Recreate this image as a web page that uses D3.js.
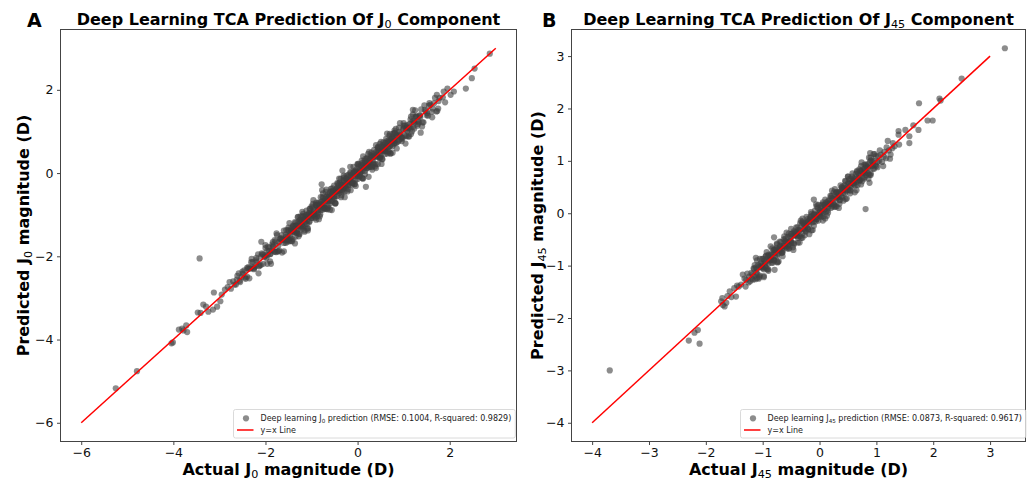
<!DOCTYPE html>
<html><head><meta charset="utf-8">
<script src="https://cdn.jsdelivr.net/npm/d3@7"></script>
<style>body{margin:0;background:#fff}svg{display:block;font-family:"DejaVu Sans",sans-serif}</style>
</head><body><svg id="c" width="1032" height="482"></svg>
<script>
// ---------- DATA: [actual, predicted] ----------
const j0Points = [
[-5.25,-5.17],[-4.79,-4.76],[-4.04,-4.09],[-4.01,-4.07],[-3.88,-3.76],[-3.81,-3.74],[-3.72,-3.66],[-3.70,-3.82],[-3.78,-3.78],
[-3.47,-3.35],[-3.41,-3.36],[-3.24,-3.33],[-3.14,-3.28],[-3.05,-3.21],[-2.98,-3.08],[-3.35,-3.16],[-3.29,-3.21],[-3.12,-2.87],
[-3.43,-2.05],[-2.09,-1.65],[-2.95,-2.92],[-2.88,-2.80],[-2.82,-2.74],[-2.78,-2.62],[-2.75,-2.78],
[1.95,2.03],[2.09,1.96],[2.35,2.03],[1.72,1.88],[1.75,1.55],[1.20,1.52],[1.20,1.41],[1.37,0.97],[1.62,1.34],[2.87,2.87],
[2.54,2.51],[2.48,2.28],[1.87,1.96],[1.85,1.82],[1.90,1.70],[2.02,1.88],
[0.18,-0.33],[-0.33,0.06],[-0.78,-0.27],[-0.77,-0.41],[0.48,0.70],
[-2.70,-2.60],[-2.64,-2.68],[-2.58,-2.41],[-2.52,-2.50],[-2.46,-2.34],[-2.40,-2.49],[-2.34,-2.29],[-2.28,-2.14],[-2.22,-2.24],[-2.16,-1.95],
[-2.10,-2.21],[-2.04,-1.96],[-1.98,-2.04],[-1.92,-1.79],[-1.86,-1.86],[-1.80,-1.61],[-1.74,-1.88],[-1.68,-1.58],[-1.62,-1.59],
[-2.67,-2.68],[-2.61,-2.47],[-2.55,-2.62],[-2.49,-2.42],[-2.43,-2.54],[-2.37,-2.26],[-2.31,-2.14],[-2.25,-2.29],[-2.19,-2.13],[-2.13,-2.22],
[-2.07,-1.95],[-2.01,-2.00],[-1.95,-1.77],[-1.89,-1.94],[-1.83,-1.74],[-1.77,-1.90],[-1.71,-1.66],[-1.65,-1.49],[-1.59,-1.61],
[-2.62,-2.56],[-2.56,-2.59],[-2.50,-2.37],[-2.44,-2.51],[-2.38,-2.30],[-2.32,-2.29],[-2.26,-2.27],[-2.20,-2.09],[-2.14,-2.24],[-2.08,-1.93],
[-2.02,-2.01],[-1.96,-1.87],[-1.90,-1.95],[-1.84,-1.77],[-1.78,-1.64],[-1.72,-1.74],[-1.66,-1.56],[-1.60,-1.68],
[-1.56,-1.48],[-1.53,-1.65],[-1.50,-1.31],[-1.47,-1.50],[-1.44,-1.33],[-1.41,-1.59],[-1.38,-1.36],[-1.35,-1.20],[-1.32,-1.41],[-1.29,-1.05],
[-1.26,-1.47],[-1.23,-1.17],[-1.20,-1.34],[-1.17,-1.04],[-1.14,-1.19],[-1.11,-0.90],[-1.08,-1.33],[-1.05,-0.96],[-1.02,-1.03],[-0.99,-0.83],
[-0.96,-0.88],[-0.93,-1.05],[-0.90,-0.71],[-0.87,-0.90],[-0.84,-0.73],[-0.81,-0.99],[-0.78,-0.76],[-0.75,-0.60],[-0.72,-0.81],[-0.69,-0.45],
[-0.66,-0.87],[-0.63,-0.57],[-0.60,-0.74],[-0.57,-0.44],[-0.54,-0.59],[-0.51,-0.30],[-0.48,-0.73],[-0.45,-0.36],[-0.42,-0.43],[-0.39,-0.23],
[-0.36,-0.28],[-0.33,-0.45],[-0.30,-0.11],[-0.27,-0.30],[-0.24,-0.13],[-0.21,-0.39],[-0.18,-0.16],[-0.15,0.00],[-0.12,-0.21],[-0.09,0.15],
[-0.06,-0.27],[-0.03,0.03],[0.00,-0.14],[0.03,0.16],[0.06,0.01],[0.09,0.30],[0.12,-0.13],[0.15,0.24],[0.18,0.17],[0.21,0.37],
[0.24,0.32],[0.27,0.15],[0.30,0.49],[0.33,0.30],[0.36,0.47],[0.39,0.21],[0.42,0.44],[0.45,0.60],[0.48,0.39],[0.51,0.75],
[0.54,0.33],[0.57,0.63],[0.60,0.46],[0.63,0.76],[0.66,0.61],[0.69,0.90],[0.72,0.47],[0.75,0.84],[0.78,0.77],[0.81,0.97],
[0.84,0.92],[0.87,0.75],[0.90,1.09],
[-1.54,-1.61],[-1.51,-1.37],[-1.48,-1.64],[-1.45,-1.41],[-1.42,-1.64],[-1.39,-1.29],[-1.36,-1.18],[-1.33,-1.44],[-1.30,-1.27],[-1.27,-1.46],
[-1.24,-1.12],[-1.21,-1.25],[-1.18,-0.98],[-1.15,-1.28],[-1.12,-1.05],[-1.09,-1.33],[-1.06,-1.05],[-1.03,-0.86],[-1.00,-1.08],[-0.97,-0.74],
[-0.94,-1.01],[-0.91,-0.77],[-0.88,-1.04],[-0.85,-0.81],[-0.82,-1.04],[-0.79,-0.69],[-0.76,-0.58],[-0.73,-0.84],[-0.70,-0.67],[-0.67,-0.86],
[-0.64,-0.52],[-0.61,-0.65],[-0.58,-0.38],[-0.55,-0.68],[-0.52,-0.45],[-0.49,-0.73],[-0.46,-0.45],[-0.43,-0.26],[-0.40,-0.48],[-0.37,-0.14],
[-0.34,-0.41],[-0.31,-0.17],[-0.28,-0.44],[-0.25,-0.21],[-0.22,-0.44],[-0.19,-0.09],[-0.16,0.02],[-0.13,-0.24],[-0.10,-0.07],[-0.07,-0.26],
[-0.04,0.08],[-0.01,-0.05],[0.02,0.22],[0.05,-0.08],[0.08,0.15],[0.11,-0.13],[0.14,0.15],[0.17,0.34],[0.20,0.12],[0.23,0.46],
[0.26,0.19],[0.29,0.43],[0.32,0.16],[0.35,0.39],[0.38,0.16],[0.41,0.51],[0.44,0.62],[0.47,0.36],[0.50,0.53],[0.53,0.34],
[0.56,0.68],[0.59,0.55],[0.62,0.82],[0.65,0.52],[0.68,0.75],[0.71,0.47],[0.74,0.75],[0.77,0.94],[0.80,0.72],[0.83,1.06],
[-1.55,-1.52],[-1.52,-1.58],[-1.49,-1.39],[-1.46,-1.56],[-1.43,-1.38],[-1.40,-1.40],[-1.37,-1.41],[-1.34,-1.26],[-1.31,-1.44],[-1.28,-1.16],
[-1.25,-1.27],[-1.22,-1.16],[-1.19,-1.27],[-1.16,-1.12],[-1.13,-1.02],[-1.10,-1.15],[-1.07,-1.00],[-1.04,-1.15],[-1.01,-0.99],[-0.98,-1.01],
[-0.95,-0.92],[-0.92,-0.98],[-0.89,-0.79],[-0.86,-0.96],[-0.83,-0.78],[-0.80,-0.80],[-0.77,-0.81],[-0.74,-0.66],[-0.71,-0.84],[-0.68,-0.56],
[-0.65,-0.67],[-0.62,-0.56],[-0.59,-0.67],[-0.56,-0.52],[-0.53,-0.42],[-0.50,-0.55],[-0.47,-0.40],[-0.44,-0.55],[-0.41,-0.39],[-0.38,-0.41],
[-0.35,-0.32],[-0.32,-0.38],[-0.29,-0.19],[-0.26,-0.36],[-0.23,-0.18],[-0.20,-0.20],[-0.17,-0.21],[-0.14,-0.06],[-0.11,-0.24],[-0.08,0.04],
[-0.05,-0.07],[-0.02,0.04],[0.01,-0.07],[0.04,0.08],[0.07,0.18],[0.10,0.05],[0.13,0.20],[0.16,0.05],[0.19,0.21],[0.22,0.19],
[0.25,0.28],[0.28,0.22],[0.31,0.41],[0.34,0.24],[0.37,0.42],[0.40,0.40],[0.43,0.39],[0.46,0.54],[0.49,0.36],[0.52,0.64],
[0.55,0.53],[0.58,0.64],[0.61,0.53],[0.64,0.68],[0.67,0.78],[0.70,0.65],[0.73,0.80],[0.76,0.65],[0.79,0.81],[0.82,0.79],
[0.93,0.95],[0.98,0.84],[1.03,1.14],[1.08,1.02],[1.13,1.18],[1.18,1.00],[1.23,1.21],[1.28,1.36],[1.33,1.22],[1.38,1.53],
[1.43,1.22],[1.48,1.49],[1.53,1.38],[1.58,1.64],[1.63,1.55],[1.68,1.81],[1.73,1.49],[1.78,1.81],
[0.96,0.86],[1.01,1.08],[1.06,0.89],[1.11,1.10],[1.16,0.94],[1.21,1.25],[1.26,1.36],[1.31,1.18],[1.36,1.34],[1.41,1.22],
[1.46,1.52],[1.51,1.44],[1.56,1.68],[1.61,1.47],[1.66,1.68],[1.71,1.48],[1.76,1.73],
[0.91,0.91],[0.95,0.86],[0.99,1.06],[1.03,0.90],[1.07,1.09],[1.11,1.08],[1.15,1.08],[1.19,1.24],[1.23,1.07],[1.27,1.36],
[1.31,1.26],[1.35,1.38],
[-2.00,-1.73],[-1.96,-2.18],[-1.92,-1.87],[-1.88,-2.18],[-1.84,-1.66],[-1.80,-1.88],[-1.76,-1.45],[-1.72,-1.88],[-1.68,-1.58],[-1.64,-1.91],
[-1.60,-1.38],[-1.56,-1.68],[-1.52,-1.52],[-1.48,-1.20],[-1.44,-1.63],[-1.40,-1.26],[-1.36,-1.69],[-1.32,-1.25],[-1.28,-1.52],[-1.24,-1.04],
[-1.20,-0.93],[-1.16,-1.38],[-1.12,-1.07],[-1.08,-1.38],[-1.04,-0.86],[-1.00,-1.08],[-0.96,-0.65],[-0.92,-1.08],[-0.88,-0.78],[-0.84,-1.11],
[-0.80,-0.58],[-0.76,-0.88],[-0.72,-0.72],[-0.68,-0.40],[-0.64,-0.83],[-0.60,-0.46],[-0.56,-0.89],[-0.52,-0.45],[-0.48,-0.72],[-0.44,-0.24],
[-0.40,-0.13],[-0.36,-0.58],[-0.32,-0.27],[-0.28,-0.58],[-0.24,-0.06],[-0.20,-0.28],[-0.16,0.15],[-0.12,-0.28],[-0.08,0.02],[-0.04,-0.31],
[0.00,0.22],[0.04,-0.08],[0.08,0.08],[0.12,0.40],[0.16,-0.03],[0.20,0.34],[0.24,-0.09],[0.28,0.35],[0.32,0.08],[0.36,0.56],
[0.40,0.67],[0.44,0.22],[0.48,0.53],[0.52,0.22],[0.56,0.74],[0.60,0.52],[0.64,0.95],[0.68,0.52],[0.72,0.82],[0.76,0.49],
[0.80,1.02],[0.84,0.72],[0.88,0.88],[0.92,1.20],[0.96,0.77],[1.00,1.14],[1.04,0.71],[1.08,1.15],[1.12,0.88],[1.16,1.36],
[-1.40,-1.41],[-1.35,-1.28],[-1.30,-1.35],[-1.25,-1.13],[-1.20,-1.29],[-1.15,-1.11],[-1.10,-1.22],[-1.05,-0.96],[-1.00,-1.00],[-0.95,-1.01],
[-0.90,-0.76],[-0.85,-0.88],[-0.80,-0.75],[-0.75,-0.85],[-0.70,-0.62],[-0.65,-0.79],[-0.60,-0.57],[-0.55,-0.45],[-0.50,-0.57],[-0.45,-0.44],
[-0.40,-0.41],[-0.35,-0.28],[-0.30,-0.35],[-0.25,-0.13],[-0.20,-0.29],[-0.15,-0.11],[-0.10,-0.22],[-0.05,0.04],[0.00,0.00],[0.05,-0.01],
[0.10,0.24],[0.15,0.12],[0.20,0.25],[0.25,0.15],[0.30,0.38],[0.35,0.21],[0.40,0.43],[0.45,0.55],[0.50,0.43],[0.55,0.56],
[0.60,0.59],[0.65,0.72],[0.70,0.65],[0.75,0.87],[0.80,0.71],[0.85,0.89],[0.90,0.78],
[-2.40,-2.28],[-2.35,-2.53],[-2.30,-2.06],[-2.25,-2.31],[-2.20,-2.04],[-2.15,-2.41],[-2.10,-2.01],[-2.05,-2.18],[-2.00,-1.80],[-1.95,-1.97],
[-1.90,-2.12],[-1.85,-1.71],[-1.80,-1.89],[-1.75,-1.49],[-1.70,-1.86],[-1.65,-1.61],[-1.60,-1.88],[-1.55,-1.37],[-1.50,-1.61],[-1.45,-1.38],
[-1.40,-1.28],[-1.35,-1.53],[-1.30,-1.06],[-1.25,-1.31],[-1.20,-1.04],[-1.15,-1.41],[-1.10,-1.01],[-1.05,-1.18],[-1.00,-0.80],[-0.95,-0.97],
[-0.90,-1.12],[-0.85,-0.71],[-0.80,-0.89],[-0.75,-0.49],[-0.70,-0.86],[-0.65,-0.61],[-0.60,-0.88],[-0.55,-0.37],[-0.50,-0.61],[-0.45,-0.38],
[-0.40,-0.28],[-0.35,-0.53],[-0.30,-0.06],[-0.25,-0.31],[-0.20,-0.04],[-0.15,-0.41],[-0.10,-0.01],[-0.05,-0.18],[0.00,0.20],[0.05,0.03],
[0.10,-0.12],[0.15,0.29],[0.20,0.11],[0.25,0.51],[0.30,0.14],[0.35,0.39],[0.40,0.12],[0.45,0.63],[0.50,0.39],[0.55,0.62],
[0.60,0.72],[0.65,0.47],[0.70,0.94],[0.75,0.69],[0.80,0.96],[0.85,0.59],[0.90,0.99],[0.95,0.82],[1.00,1.20],[1.05,1.03],
[1.10,0.88],[1.15,1.29],[1.20,1.11],[1.25,1.51],[1.30,1.14],[1.35,1.39],[1.40,1.12],[1.45,1.63],[1.50,1.39],[1.55,1.62]
];

const j45Points = [
[-3.69,-3.00],[-2.30,-2.43],[-2.11,-2.49],[-2.20,-2.28],[-2.14,-2.23],
[3.26,3.15],[2.50,2.57],[2.11,2.19],[2.13,2.15],[1.75,2.10],[1.90,1.77],[1.99,1.77],[1.51,1.59],[1.65,1.68],[1.74,1.59],
[1.39,1.57],[1.39,1.50],[1.58,1.47],[1.58,1.34],[1.20,1.38],[1.29,1.34],[1.40,1.31],[0.89,1.15],[1.12,0.90],[0.73,0.90],[0.88,0.58],
[1.05,1.00],[1.08,1.12],[1.10,0.98],[1.14,1.17],[1.17,1.05],[1.22,1.20],[1.25,1.12],[1.06,1.20],[1.18,1.26],[1.28,1.24],
[1.02,0.88],[1.13,1.08],[1.32,1.28],[1.24,1.04],
[-1.70,-1.75],[-1.73,-1.68],[-1.71,-1.62],[-1.67,-1.78],[-1.64,-1.71],[-1.58,-1.49],[-1.50,-1.43],[-1.47,-1.59],[-1.35,-1.17],[-1.38,-1.36],
[-1.29,-1.27],[-1.12,-0.85],[-1.25,-1.32],[-1.32,-1.25],[-1.42,-1.40],[-1.55,-1.60],[-1.27,-1.15],[-1.22,-1.30],[-1.45,-1.38],[-1.62,-1.58],
[-1.30,-1.40],[-1.24,-1.21],[-0.98,-1.22],[-0.79,-1.08],[-0.80,-0.46],[-0.10,0.26],[0.81,0.08],
[-1.20,-1.14],[-1.17,-1.27],[-1.14,-0.99],[-1.11,-1.13],[-1.08,-0.99],[-1.05,-1.19],[-1.02,-1.00],[-0.99,-0.87],[-0.96,-1.03],[-0.93,-0.74],
[-0.90,-1.07],[-0.87,-0.82],[-0.84,-0.95],[-0.81,-0.71],[-0.78,-0.82],[-0.75,-0.58],[-0.72,-0.92],[-0.69,-0.62],[-0.66,-0.67],[-0.63,-0.50],
[-0.60,-0.54],[-0.57,-0.67],[-0.54,-0.39],[-0.51,-0.53],[-0.48,-0.39],[-0.45,-0.59],[-0.42,-0.40],[-0.39,-0.27],[-0.36,-0.43],[-0.33,-0.14],
[-0.30,-0.47],[-0.27,-0.22],[-0.24,-0.35],[-0.21,-0.11],[-0.18,-0.22],[-0.15,0.02],[-0.12,-0.32],[-0.09,-0.02],[-0.06,-0.07],[-0.03,0.10],
[0.00,0.06],[0.03,-0.07],[0.06,0.21],[0.09,0.07],[0.12,0.21],[0.15,0.01],[0.18,0.20],[0.21,0.33],[0.24,0.17],[0.27,0.46],
[0.30,0.13],[0.33,0.38],[0.36,0.25],[0.39,0.49],[0.42,0.38],[0.45,0.62],[0.48,0.28],[0.51,0.58],[0.54,0.53],[0.57,0.70],
[0.60,0.66],[0.63,0.53],[0.66,0.81],[0.69,0.67],[0.72,0.81],[0.75,0.61],[0.78,0.80],[0.81,0.93],[0.84,0.77],[0.87,1.06],
[0.90,0.73],[0.93,0.98],[0.96,0.85],[0.99,1.09],[1.02,0.98],
[-1.19,-1.25],[-1.16,-1.05],[-1.13,-1.26],[-1.10,-1.07],[-1.07,-1.25],[-1.04,-0.96],[-1.01,-0.87],[-0.98,-1.07],[-0.95,-0.93],[-0.92,-1.07],
[-0.89,-0.79],[-0.86,-0.89],[-0.83,-0.67],[-0.80,-0.90],[-0.77,-0.71],[-0.74,-0.93],[-0.71,-0.70],[-0.68,-0.55],[-0.65,-0.71],[-0.62,-0.44],
[-0.59,-0.65],[-0.56,-0.45],[-0.53,-0.66],[-0.50,-0.47],[-0.47,-0.65],[-0.44,-0.36],[-0.41,-0.27],[-0.38,-0.47],[-0.35,-0.33],[-0.32,-0.47],
[-0.29,-0.19],[-0.26,-0.29],[-0.23,-0.07],[-0.20,-0.30],[-0.17,-0.11],[-0.14,-0.33],[-0.11,-0.10],[-0.08,0.05],[-0.05,-0.11],[-0.02,0.16],
[0.01,-0.05],[0.04,0.15],[0.07,-0.06],[0.10,0.13],[0.13,-0.05],[0.16,0.24],[0.19,0.33],[0.22,0.13],[0.25,0.27],[0.28,0.13],
[0.31,0.41],[0.34,0.31],[0.37,0.53],[0.40,0.30],[0.43,0.49],[0.46,0.27],[0.49,0.50],[0.52,0.65],[0.55,0.49],[0.58,0.76],
[0.61,0.55],[0.64,0.75],[0.67,0.54],[0.70,0.73],[0.73,0.55],[0.76,0.84],[0.79,0.93],[0.82,0.73],[0.85,0.87],[0.88,0.73],
[0.91,1.01],[0.94,0.91],[0.97,1.13],[1.00,0.90],[1.03,1.09],
[-1.18,-1.16],[-1.15,-1.20],[-1.12,-1.04],[-1.09,-1.17],[-1.06,-1.02],[-1.03,-1.03],[-1.00,-1.03],[-0.97,-0.91],[-0.94,-1.04],[-0.91,-0.81],
[-0.88,-0.90],[-0.85,-0.80],[-0.82,-0.88],[-0.79,-0.76],[-0.76,-0.67],[-0.73,-0.77],[-0.70,-0.64],[-0.67,-0.76],[-0.64,-0.62],[-0.61,-0.63],
[-0.58,-0.56],[-0.55,-0.60],[-0.52,-0.44],[-0.49,-0.57],[-0.46,-0.42],[-0.43,-0.43],[-0.40,-0.43],[-0.37,-0.31],[-0.34,-0.44],[-0.31,-0.21],
[-0.28,-0.30],[-0.25,-0.20],[-0.22,-0.28],[-0.19,-0.16],[-0.16,-0.07],[-0.13,-0.17],[-0.10,-0.04],[-0.07,-0.16],[-0.04,-0.02],[-0.01,-0.03],
[0.02,0.04],[0.05,0.00],[0.08,0.16],[0.11,0.03],[0.14,0.18],[0.17,0.17],[0.20,0.17],[0.23,0.29],[0.26,0.16],[0.29,0.39],
[0.32,0.30],[0.35,0.40],[0.38,0.32],[0.41,0.44],[0.44,0.53],[0.47,0.43],[0.50,0.56],[0.53,0.44],[0.56,0.58],[0.59,0.57],
[0.62,0.64],[0.65,0.60],[0.68,0.76],[0.71,0.63],[0.74,0.78],[0.77,0.77],[0.80,0.77],[0.83,0.89],[0.86,0.76],[0.89,0.99],
[0.92,0.90],[0.95,1.00],[0.98,0.92],
[-1.10,-0.90],[-1.06,-1.22],[-1.02,-0.98],[-0.98,-1.20],[-0.94,-0.81],[-0.90,-0.96],[-0.86,-0.63],[-0.82,-0.94],[-0.78,-0.70],[-0.74,-0.94],
[-0.70,-0.54],[-0.66,-0.75],[-0.62,-0.62],[-0.58,-0.37],[-0.54,-0.68],[-0.50,-0.40],[-0.46,-0.70],[-0.42,-0.37],[-0.38,-0.56],[-0.34,-0.19],
[-0.30,-0.10],[-0.26,-0.42],[-0.22,-0.18],[-0.18,-0.40],[-0.14,-0.01],[-0.10,-0.16],[-0.06,0.17],[-0.02,-0.14],[0.02,0.10],[0.06,-0.14],
[0.10,0.26],[0.14,0.05],[0.18,0.18],[0.22,0.43],[0.26,0.12],[0.30,0.40],[0.34,0.10],[0.38,0.43],[0.42,0.24],[0.46,0.61],
[0.50,0.70],[0.54,0.38],[0.58,0.62],[0.62,0.40],[0.66,0.79],[0.70,0.64],[0.74,0.97],[0.78,0.66],[0.82,0.90],[0.86,0.66],
[0.90,1.06],[0.94,0.85],
[-0.95,-0.96],[-0.90,-0.84],[-0.85,-0.89],[-0.80,-0.70],[-0.75,-0.82],[-0.70,-0.67],[-0.65,-0.75],[-0.60,-0.53],[-0.55,-0.55],[-0.50,-0.55],
[-0.45,-0.34],[-0.40,-0.42],[-0.35,-0.31],[-0.30,-0.38],[-0.25,-0.19],[-0.20,-0.31],[-0.15,-0.13],[-0.10,-0.02],[-0.05,-0.11],[0.00,0.01],
[0.05,0.04],[0.10,0.16],[0.15,0.11],[0.20,0.30],[0.25,0.18],[0.30,0.33],[0.35,0.25],[0.40,0.47],[0.45,0.45],[0.50,0.45],
[0.55,0.66],[0.60,0.58],[0.65,0.69],[0.70,0.62],[0.75,0.81],[0.80,0.69],[0.85,0.87],
[-1.15,-1.06],[-1.10,-1.24],[-1.05,-0.87],[-1.00,-1.05],[-0.95,-0.83],[-0.90,-1.10],[-0.85,-0.78],[-0.80,-0.90],[-0.75,-0.60],[-0.70,-0.72],
[-0.65,-0.82],[-0.60,-0.49],[-0.55,-0.62],[-0.50,-0.30],[-0.45,-0.57],[-0.40,-0.37],[-0.35,-0.56],[-0.30,-0.16],[-0.25,-0.33],[-0.20,-0.15],
[-0.15,-0.06],[-0.10,-0.24],[-0.05,0.13],[0.00,-0.05],[0.05,0.17],[0.10,-0.10],[0.15,0.22],[0.20,0.10],[0.25,0.40],[0.30,0.28],
[0.35,0.18],[0.40,0.51],[0.45,0.38],[0.50,0.70],[0.55,0.43],[0.60,0.63],[0.65,0.44],[0.70,0.84],[0.75,0.67],[0.80,0.85],
[0.85,0.94],[0.90,0.76],[0.95,1.13]
];

const j0Ticks = [-6, -4, -2, 0, 2];
const j45Ticks = [-4, -3, -2, -1, 0, 1, 2, 3];
const j0LineEnds = [-6, 3];
const j45LineEnds = [-4, 3];
const panelLetters = ["A", "B"];
const components = ["0", "45"];
const rmseValues = ["0.1004", "0.0873"];
const r2Values = ["0.9829", "0.9617"];

// ---------- layout ----------
const svg = d3.select("#c");
const panels = [
  {left:60.5, right:516.5, top:29.5, bottom:441.5, xd:[-6.45,3.45], yd:[-6.45,3.45],
   points:j0Points, line:j0LineEnds, ticks:j0Ticks, legX:233.5, letterX:27, ylabX:29},
  {left:571.5, right:1025.5, top:29.5, bottom:441.5, xd:[-4.363,3.623], yd:[-4.3575,3.5075],
   points:j45Points, line:j45LineEnds, ticks:j45Ticks, legX:740.5, letterX:542, ylabX:543}
];

function rich(sel, parts, size) {
  let pending = 0;
  parts.forEach(pt => {
    const ts = sel.append("tspan").text(pt.t);
    if (pt.sub) {
      ts.attr("font-size", size * 0.7).attr("font-weight", "normal").attr("dy", size * 0.2);
      pending = -size * 0.2;
    } else if (pending) {
      ts.attr("dy", pending);
      pending = 0;
    }
  });
}

const ptFill = "#3f3f3f", ptOpacity = 0.6, ptR = 3.1;

panels.forEach((p, i) => {
  const g = svg.append("g");
  const x = d3.scaleLinear().domain(p.xd).range([p.left, p.right]);
  const y = d3.scaleLinear().domain(p.yd).range([p.bottom, p.top]);
  const comp = components[i];

  g.append("g").selectAll("circle").data(p.points).join("circle")
    .attr("cx", d => x(d[0])).attr("cy", d => y(d[1])).attr("r", ptR)
    .attr("fill", ptFill).attr("fill-opacity", ptOpacity);

  g.append("line")
    .attr("x1", x(p.line[0])).attr("y1", y(p.line[0]))
    .attr("x2", x(p.line[1])).attr("y2", y(p.line[1]))
    .attr("stroke", "#ff0000").attr("stroke-width", 1.5);

  g.append("rect").attr("x", p.left).attr("y", p.top)
    .attr("width", p.right - p.left).attr("height", p.bottom - p.top)
    .attr("fill", "none").attr("stroke", "#444").attr("stroke-width", 1);

  const xa = g.append("g").attr("transform", `translate(0,${p.bottom})`)
    .call(d3.axisBottom(x).tickValues(p.ticks).tickSize(3.5).tickPadding(3.5));
  const ya = g.append("g").attr("transform", `translate(${p.left},0)`)
    .call(d3.axisLeft(y).tickValues(p.ticks).tickSize(3.5).tickPadding(3.5));
  [xa, ya].forEach(a => {
    a.select(".domain").remove();
    a.selectAll(".tick line").attr("stroke", "#444");
    a.selectAll(".tick text").attr("font-size", 12.5).attr("fill", "#111")
      .attr("font-family", "DejaVu Sans");
  });

  const cx = (p.left + p.right) / 2, cy = (p.top + p.bottom) / 2;
  const t = g.append("text").attr("x", cx).attr("y", 25).attr("text-anchor", "middle")
    .attr("font-size", 16).attr("font-weight", "bold").attr("fill", "#000");
  rich(t, [{t:"Deep Learning TCA Prediction Of J"},{t:comp, sub:true},{t:" Component"}], 16);
  g.append("text").attr("x", p.letterX).attr("y", 27).attr("font-size", 19)
    .attr("font-weight", "bold").text(panelLetters[i]);
  const xl = g.append("text").attr("x", cx).attr("y", 475).attr("text-anchor", "middle")
    .attr("font-size", 16).attr("font-weight", "bold");
  rich(xl, [{t:"Actual J"},{t:comp, sub:true},{t:" magnitude (D)"}], 16);
  const yl = g.append("text").attr("transform", `translate(${p.ylabX},${cy}) rotate(-90)`)
    .attr("text-anchor", "middle").attr("font-size", 16).attr("font-weight", "bold");
  rich(yl, [{t:"Predicted J"},{t:comp, sub:true},{t:" magnitude (D)"}], 16);

  const fs = 8.0;
  const lg = g.append("g");
  const legText = lg.append("text").attr("x", p.legX + 27).attr("y", 421)
    .attr("font-size", fs).attr("fill", "#222");
  rich(legText, [{t:"Deep learning J"},{t:comp, sub:true},
    {t:` prediction (RMSE: ${rmseValues[i]}, R-squared: ${r2Values[i]})`}], fs);
  const tw = legText.node().getComputedTextLength();
  lg.insert("rect", "text").attr("x", p.legX).attr("y", 409.5)
    .attr("width", tw + 27 + 4).attr("height", 28.5).attr("rx", 2)
    .attr("fill", "#fff").attr("fill-opacity", 0.8).attr("stroke", "#d0d0d0").attr("stroke-width", 0.8);
  lg.append("circle").attr("cx", p.legX + 12.5).attr("cy", 418.3).attr("r", ptR)
    .attr("fill", ptFill).attr("fill-opacity", ptOpacity);
  lg.append("line").attr("x1", p.legX + 3.5).attr("x2", p.legX + 20).attr("y1", 430).attr("y2", 430)
    .attr("stroke", "#ff0000").attr("stroke-width", 1.5);
  lg.append("text").attr("x", p.legX + 27).attr("y", 433).attr("font-size", fs)
    .attr("fill", "#222").text("y=x Line");
});
</script></body></html>
